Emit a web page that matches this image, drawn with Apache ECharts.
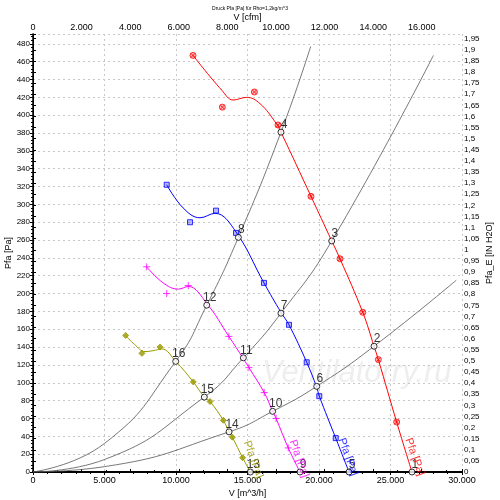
<!DOCTYPE html>
<html>
<head>
<meta charset="utf-8">
<script src="https://cdn.jsdelivr.net/npm/echarts@6/dist/echarts.min.js"></script>
<style>
  html, body { margin: 0; padding: 0; background: #fff; }
  #chart { width: 500px; height: 500px; }
</style>
</head>
<body>
<div id="chart"></div>
<script>
// V in m^3/h, Pfa in Pa
var fan1Line = [[11190, 467], [13200, 428], [14000, 417], [14940, 420], [15870, 413], [17000, 391], [17340, 381], [19440, 309], [20890, 259], [21470, 239], [23060, 179], [23850, 141], [24150, 126], [25430, 56], [26500, 0]];
var fan1Marks = [[11190, 467], [13240, 409], [15480, 426], [17130, 389], [19440, 309], [21470, 239], [23060, 179], [24150, 126], [25430, 56]];

var fan2Line = [[9350, 322], [10500, 296], [11680, 285], [12730, 290], [14200, 269], [16150, 212], [17340, 179], [17900, 165], [19140, 123], [19840, 95], [20020, 85], [21170, 38], [22100, 0]];
var fan2Marks = [[9350, 322], [10980, 280], [12800, 293], [14200, 268], [16150, 212], [17900, 165], [19140, 123], [20020, 85], [21170, 38]];

var fan3Line = [[7950, 230], [9100, 212], [10160, 205], [10860, 208], [12150, 189], [13700, 152], [14710, 127], [15100, 117], [16170, 89], [16760, 68], [17000, 60], [17850, 27], [18670, 0]];
var fan3Marks = [[7950, 230], [9350, 200], [10860, 209], [13700, 152], [15100, 117], [16170, 89], [17000, 60], [17850, 27]];

var fan4Line = [[6480, 153], [7100, 143], [7830, 135], [8400, 136], [9000, 138], [9980, 124], [11210, 101], [11980, 84], [12380, 79], [13310, 58], [13710, 45], [13940, 39], [14660, 16], [15200, 0]];
var fan4Marks = [[6480, 153], [7620, 133], [8880, 140], [11210, 101], [12380, 79], [13310, 58], [13940, 39], [14660, 16]];

// system curves
var sysA = [[0, 0], [5000, 32], [9980, 124], [12150, 187], [14360, 263], [17340, 381], [19420, 477]];
var sysB = [[0, 0], [5000, 14], [11980, 84], [14710, 128], [17340, 178], [20890, 259], [28000, 467]];
var sysC = [[0, 0], [5000, 6], [13710, 45], [16760, 68], [19840, 96], [23850, 141], [29600, 215]];

// operating points
var opNames = ['1', '2', '3', '4', '5', '6', '7', '8', '9', '10', '11', '12', '13', '14', '15', '16'];
var opPoints = [[26500, 0], [23850, 141], [20890, 259], [17340, 381], [22100, 0], [19840, 96], [17340, 178], [14360, 263], [18670, 0], [16760, 68], [14710, 128], [12150, 187], [15200, 0], [13710, 45], [11980, 84], [9980, 124]];

// curve name labels
var nameText = 'Pfa [Pa]';
var namePos = [[26700, 17], [22030, 17], [18600, 15], [15400, 14]];
var fanColors = ['#ff0000', '#0000ff', '#ff00ff', '#999900'];

var PA_PER_INH2O = 249.089;
var CFM = 1.69901;
var yMax = 491;
var xMax = 30000;

function dotNum(v) {
  return String(Math.round(v)).replace(/\B(?=(\d{3})+(?!\d))/g, '.');
}

var chart = echarts.init(document.getElementById('chart'));

var series = [];
[sysA, sysB, sysC].forEach(function(d) {
  series.push({ type: 'line', data: d, smooth: 0.5, showSymbol: false, silent: true,
    lineStyle: { color: '#555', width: 0.8 }, z: 2 });
});
[fan1Line, fan2Line, fan3Line, fan4Line].forEach(function(d, i) {
  series.push({ type: 'line', data: d, smooth: 0.4, showSymbol: false, silent: true,
    lineStyle: { color: fanColors[i], width: 1 }, z: 3 });
});
var markSymbols = [
  { symbol: 'path://M10,0A10,10,0,1,1,10,20A10,10,0,1,1,10,0ZM3,3L17,17M17,3L3,17', size: 6, color: 'rgba(255,0,0,0.35)' },
  { symbol: 'rect', size: 5, color: 'rgba(0,0,255,0.35)' },
  { symbol: 'path://M5,0L5,10M0,5L10,5', size: 7, color: 'none' },
  { symbol: 'diamond', size: 6, color: '#999900' }
];
[fan1Marks, fan2Marks, fan3Marks, fan4Marks].forEach(function(d, i) {
  series.push({ type: 'scatter', data: d, symbol: markSymbols[i].symbol, symbolSize: markSymbols[i].size,
    itemStyle: { color: markSymbols[i].color, borderColor: fanColors[i], borderWidth: 1 }, z: 4 });
});
series.push({
  type: 'scatter', z: 5,
  data: opPoints.map(function(p, i) { return { value: p, name: opNames[i] }; }),
  symbol: 'circle', symbolSize: 6,
  itemStyle: { color: '#fff', borderColor: '#000', borderWidth: 1 },
  label: { show: true, position: 'top', distance: 0, offset: [3, 2], formatter: '{b}',
    color: '#000', fontSize: 12, fontFamily: 'Liberation Sans' }
});
namePos.forEach(function(p, i) {
  series.push({
    type: 'scatter', z: 5, data: [p], symbolSize: 0,
    label: { show: true, position: 'inside', formatter: nameText, rotate: -70,
      color: fanColors[i], fontSize: 11, fontFamily: 'Liberation Sans' }
  });
});

var option = {
  animation: false,
  backgroundColor: '#fff',
  textStyle: { fontFamily: 'Liberation Sans' },
  grid: { left: 33, right: 38, top: 34, bottom: 28, containLabel: false, outerBoundsMode: 'none' },
  graphic: [
    { type: 'text', left: 'center', top: 6, style: { text: 'Druck Pfa [Pa] für Rho=1,2kg/m^3', fontSize: 5, fill: '#000', fontFamily: 'Liberation Sans' } },
    { type: 'text', x: 262, y: 358, z: 1, style: { text: 'Ventilatorry.ru', fontSize: 31, fontStyle: 'italic', fill: 'rgba(200,200,200,0.3)', fontFamily: 'Liberation Sans' } }
  ],
  xAxis: [
    {
      type: 'value', position: 'bottom', min: 0, max: xMax, interval: 5000,
      name: 'V [m^3/h]', nameLocation: 'middle', nameGap: 17, nameMoveOverlap: false,
      nameTextStyle: { fontSize: 9, color: '#000' },
      axisLine: { lineStyle: { color: '#000', width: 2 } },
      axisTick: { length: 3, lineStyle: { color: '#000' } },
      minorTick: { show: true, splitNumber: 5, length: 2, lineStyle: { color: '#000' } },
      axisLabel: { fontSize: 9, color: '#000', margin: 4, formatter: function(v) { return dotNum(v); } },
      splitLine: { show: true, lineStyle: { color: '#c8c8c8', type: [2, 3] } }
    },
    {
      type: 'value', position: 'top', min: 0, max: xMax / CFM, interval: 2000,
      name: 'V [cfm]', nameLocation: 'middle', nameGap: 12, nameMoveOverlap: false,
      nameTextStyle: { fontSize: 9, color: '#000' },
      axisLine: { lineStyle: { color: '#000', width: 1 } },
      axisTick: { length: 3, lineStyle: { color: '#000' } },
      minorTick: { show: true, splitNumber: 2, length: 2, lineStyle: { color: '#000' } },
      axisLabel: { fontSize: 9, color: '#000', margin: 2,
        formatter: function(v) { return Math.round(v) % 2000 === 0 ? dotNum(v) : ''; } },
      splitLine: { show: false }
    }
  ],
  yAxis: [
    {
      type: 'value', position: 'left', min: 0, max: yMax, interval: 20,
      name: 'Pfa [Pa]', nameLocation: 'middle', nameGap: 20, nameRotate: 90, nameMoveOverlap: false,
      nameTextStyle: { fontSize: 9, color: '#000' },
      axisLine: { lineStyle: { color: '#000', width: 1.5 } },
      axisTick: { length: 3, lineStyle: { color: '#000' } },
      minorTick: { show: true, splitNumber: 5, length: 2, lineStyle: { color: '#000' } },
      axisLabel: { fontSize: 8, color: '#000', margin: 3,
        formatter: function(v) { return Math.round(v) % 20 === 0 ? String(Math.round(v)) : ''; } },
      splitLine: { show: true, lineStyle: { color: '#c8c8c8', type: [2, 3] } }
    },
    {
      type: 'value', position: 'right', min: 0, max: yMax / PA_PER_INH2O, interval: 0.05,
      name: 'Pfa_E [IN H2O]', nameLocation: 'middle', nameGap: 23, nameRotate: 90, nameMoveOverlap: false,
      nameTextStyle: { fontSize: 9, color: '#000' },
      axisLine: { lineStyle: { color: '#000', width: 1 } },
      axisTick: { length: 3, lineStyle: { color: '#000' } },
      axisLabel: { fontSize: 8, color: '#000', margin: 2,
        formatter: function(v) {
          var n = Math.round(v * 100);
          if (Math.abs(v * 100 - n) > 0.01 || n % 5 !== 0) return '';
          return String(n / 100).replace('.', ',');
        } },
      splitLine: { show: false }
    }
  ],
  series: series
};
chart.setOption(option);
</script>
</body>
</html>
